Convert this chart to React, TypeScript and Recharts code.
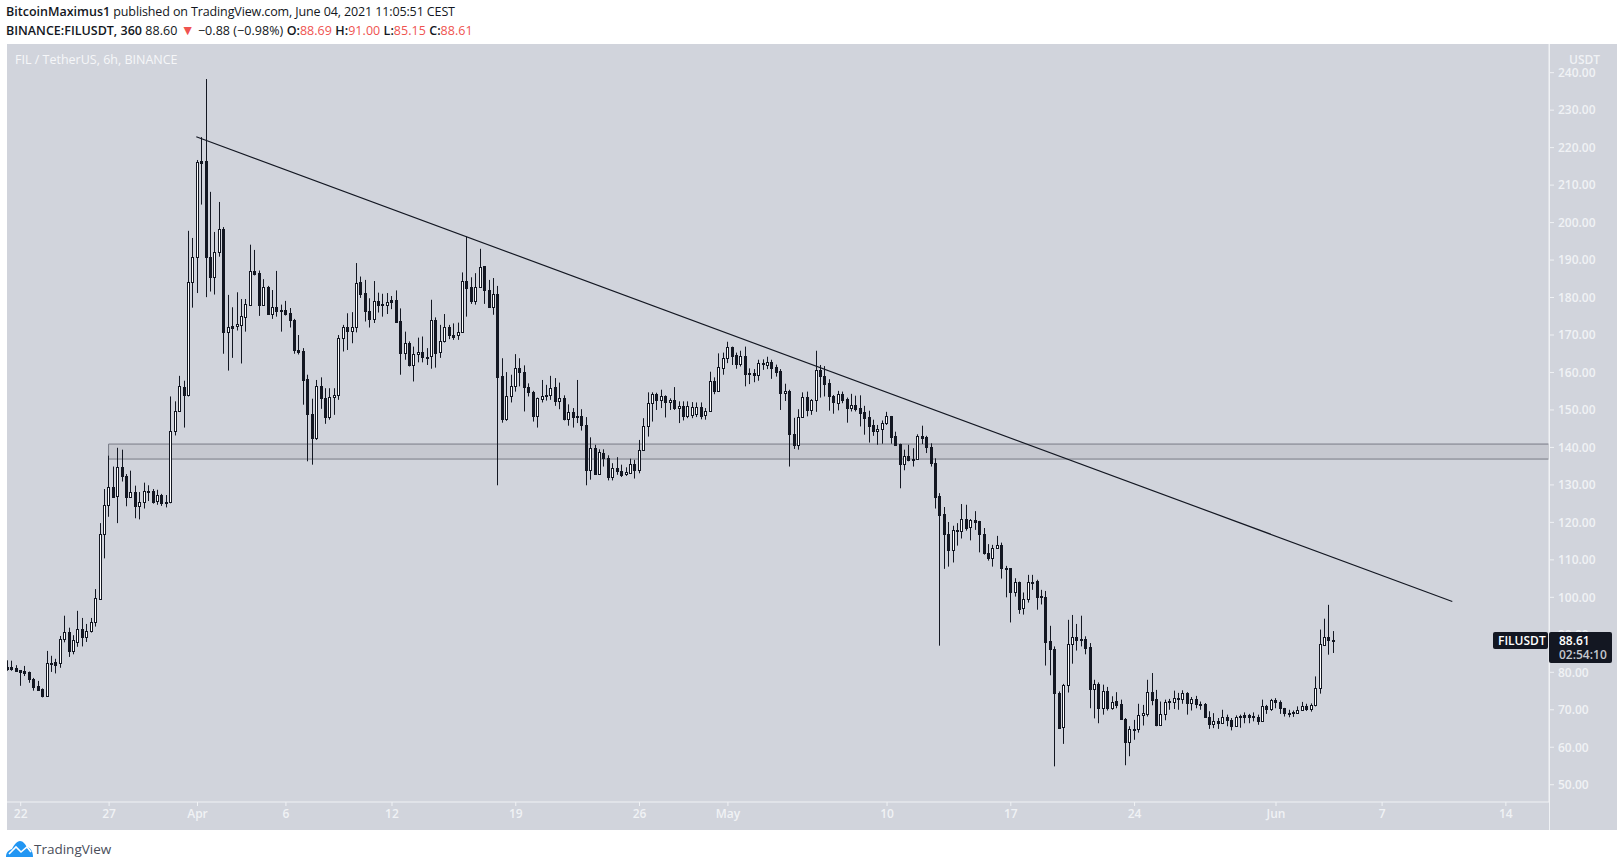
import { Bar, ComposedChart, ReferenceArea, ReferenceLine, XAxis, YAxis } from 'recharts';

const opens = [
  81.5, 81.5, 81.2, 80.6, 80.4, 80.0, 78.2, 76.4, 75.6, 73.8,
  82.5, 82.8, 82.4, 88.8, 90.7, 85.8, 88.2, 91.5, 89.3, 90.9,
  93.3, 99.6, 116.9, 124.6, 129.4, 127.0, 134.7, 132.4, 126.9, 128.1,
  124.5, 125.4, 128.3, 128.3, 125.8, 127.3, 125.3, 125.4, 144.3, 149.7,
  156.1, 154.1, 184.1, 190.8, 216.5, 216.5, 190.7, 185.6, 192.1, 198.3,
  170.9, 172.4, 172.3, 172.8, 174.9, 178.1, 187.0, 186.5, 178.1, 182.8,
  175.5, 177.4, 176.6, 176.6, 175.9, 174.0, 166.0, 165.8, 158.2, 148.8,
  142.4, 156.3, 153.2, 148.1, 153.4, 154.1, 169.1, 172.1, 171.2, 172.1,
  184.2, 181.2, 176.4, 174.3, 179.0, 178.2, 178.1, 179.4, 179.4, 173.7,
  165.1, 167.8, 162.1, 164.9, 165.4, 164.0, 164.3, 174.0, 165.4, 168.3,
  172.1, 170.0, 169.9, 170.9, 184.4, 182.8, 179.2, 182.8, 188.3, 182.0,
  177.4, 180.9, 159.1, 147.7, 153.7, 156.3, 161.1, 160.1, 156.1, 154.7,
  148.3, 152.8, 153.6, 153.9, 156.0, 152.5, 153.1, 147.7, 149.4, 148.1,
  148.5, 146.0, 134.1, 139.8, 133.0, 138.5, 137.3, 132.0, 134.5, 133.7,
  132.8, 133.3, 135.5, 133.9, 139.3, 145.7, 151.8, 154.2, 152.7, 153.6,
  152.2, 152.6, 150.6, 151.0, 148.5, 148.7, 148.9, 150.7, 148.7, 149.6,
  157.7, 155.1, 161.3, 163.8, 166.7, 164.7, 162.3, 164.4, 159.6, 159.8,
  159.2, 162.4, 162.0, 162.8, 161.4, 160.5, 154.4, 155.1, 143.6, 140.7,
  148.1, 153.4, 150.0, 152.6, 160.7, 159.1, 157.1, 153.8, 151.9, 154.3,
  153.0, 150.4, 151.4, 150.5, 149.4, 148.1, 145.9, 144.5, 144.8, 146.4,
  148.3, 143.1, 140.9, 135.7, 137.7, 136.7, 137.0, 143.0, 142.7, 140.1,
  135.8, 127.1, 122.2, 116.9, 112.5, 117.9, 117.7, 120.9, 118.7, 120.6,
  120.3, 116.9, 111.8, 110.5, 113.1, 113.9, 107.7, 107.8, 101.4, 104.1,
  97.1, 99.5, 104.2, 104.4, 100.3, 100.1, 88.3, 86.3, 74.5, 65.3,
  76.6, 87.5, 89.4, 88.5, 88.9, 86.7, 75.5, 76.9, 70.4, 75.1,
  70.6, 72.3, 71.6, 67.6, 61.4, 64.9, 64.9, 68.5, 69.0, 74.7,
  72.9, 66.0, 68.9, 72.4, 72.0, 73.2, 72.8, 74.5, 71.8, 72.9,
  71.5, 71.6, 68.2, 66.2, 67.0, 66.6, 68.2, 67.2, 65.8, 68.2,
  68.7, 68.6, 68.2, 68.2, 66.9, 70.9, 70.2, 72.6, 72.1, 70.4,
  69.1, 69.2, 69.1, 69.9, 70.9, 70.1, 71.2, 75.8, 87.4, 89.4,
  88.69,
];
const highs = [
  83.2, 83.1, 81.9, 80.6, 81.7, 80.2, 78.5, 77.7, 75.7, 85.7,
  84.4, 83.6, 89.7, 95.1, 91.9, 89.9, 96.4, 94.5, 92.9, 94.5,
  102.2, 119.8, 128.9, 137.8, 134.9, 139.9, 139.4, 132.9, 133.8, 129.8,
  128.1, 130.6, 129.9, 128.9, 128.7, 127.6, 127.3, 153.6, 152.3, 159.1,
  157.8, 197.8, 195.9, 216.7, 222.8, 238.3, 208.2, 197.5, 205.5, 198.8,
  180.7, 177.4, 181.4, 179.6, 179.6, 194.1, 192.7, 187.2, 184.9, 183.1,
  182.0, 187.1, 178.1, 179.1, 177.2, 174.3, 170.0, 166.5, 159.4, 153.0,
  158.0, 158.7, 155.8, 155.8, 155.8, 170.0, 172.7, 175.8, 176.1, 189.2,
  185.6, 184.7, 179.8, 184.4, 181.3, 181.0, 181.2, 180.4, 181.9, 177.1,
  170.9, 168.3, 166.9, 169.3, 169.6, 166.5, 179.4, 174.7, 172.7, 175.6,
  172.7, 173.1, 173.3, 186.7, 196.2, 185.4, 186.5, 193.0, 188.4, 184.7,
  185.2, 183.1, 163.8, 160.1, 159.4, 164.9, 163.8, 161.9, 157.1, 155.1,
  153.3, 158.0, 156.7, 159.1, 158.5, 157.3, 153.9, 151.5, 150.5, 158.0,
  150.2, 148.1, 142.7, 140.7, 139.5, 139.5, 137.9, 135.8, 137.4, 135.4,
  134.7, 137.0, 136.7, 142.0, 147.8, 154.7, 154.7, 154.6, 155.4, 153.9,
  153.1, 156.1, 152.3, 152.3, 152.3, 152.1, 152.0, 152.0, 150.5, 160.2,
  158.7, 165.1, 165.3, 168.2, 166.9, 165.3, 165.8, 166.9, 161.1, 160.9,
  163.4, 163.5, 164.2, 163.4, 162.1, 160.9, 157.0, 155.4, 147.9, 150.2,
  154.7, 154.9, 152.9, 165.8, 162.0, 161.7, 158.2, 154.0, 155.1, 154.9,
  153.3, 154.3, 153.8, 153.9, 151.1, 149.8, 147.4, 146.0, 147.2, 149.5,
  148.4, 144.2, 141.0, 139.4, 140.7, 139.8, 143.5, 145.8, 143.1, 141.1,
  137.1, 127.8, 124.1, 120.1, 119.1, 119.8, 124.9, 124.7, 120.9, 123.0,
  120.4, 118.5, 114.2, 114.0, 116.4, 114.6, 108.4, 107.8, 105.1, 104.2,
  101.3, 106.0, 106.0, 104.7, 102.0, 101.7, 92.4, 86.9, 74.9, 76.9,
  94.0, 95.3, 92.9, 95.1, 89.6, 87.8, 78.0, 77.3, 76.7, 76.1,
  73.6, 74.7, 72.7, 67.8, 65.6, 67.3, 71.6, 71.3, 78.0, 79.8,
  75.3, 72.2, 72.7, 72.9, 75.1, 74.5, 75.2, 74.7, 73.4, 73.7,
  72.2, 71.8, 69.6, 69.1, 67.8, 70.0, 68.7, 67.8, 68.5, 68.7,
  69.3, 68.9, 69.3, 68.7, 72.7, 71.3, 72.9, 73.1, 72.5, 70.5,
  70.0, 69.8, 70.9, 72.1, 71.6, 71.7, 78.9, 91.4, 94.3, 98.0,
  91.0,
];
const lows = [
  80.4, 80.4, 80.3, 76.4, 79.0, 77.2, 75.1, 75.3, 73.3, 73.8,
  80.1, 79.7, 81.2, 88.0, 84.1, 84.8, 86.8, 86.9, 88.1, 90.6,
  92.2, 99.4, 110.4, 121.5, 126.6, 119.8, 130.9, 124.3, 126.7, 121.1,
  120.8, 123.7, 125.7, 125.0, 124.7, 124.4, 124.0, 125.1, 143.2, 149.6,
  145.3, 153.6, 177.3, 181.2, 204.8, 180.1, 181.6, 180.8, 190.9, 165.0,
  160.5, 163.9, 171.2, 162.4, 170.9, 178.0, 185.9, 175.1, 178.0, 175.4,
  174.3, 174.9, 170.9, 175.2, 172.0, 165.0, 164.8, 151.4, 136.3, 135.4,
  142.0, 150.3, 146.3, 147.4, 148.7, 152.7, 165.6, 166.0, 167.8, 170.7,
  179.9, 173.6, 172.0, 173.2, 176.0, 174.9, 175.6, 176.9, 173.3, 159.4,
  163.4, 161.6, 157.6, 162.7, 162.7, 162.0, 161.0, 161.3, 163.9, 168.0,
  168.9, 168.7, 168.7, 170.7, 174.9, 178.3, 178.1, 182.6, 178.3, 177.2,
  175.4, 129.9, 146.6, 147.1, 152.0, 154.9, 156.3, 149.6, 153.6, 146.9,
  145.3, 152.0, 152.5, 152.7, 151.1, 150.2, 147.2, 145.8, 145.3, 146.5,
  144.5, 129.9, 131.4, 132.7, 132.7, 134.9, 131.2, 131.2, 132.7, 132.1,
  132.4, 133.0, 131.7, 133.1, 139.2, 142.9, 146.9, 150.0, 150.5, 148.0,
  150.0, 150.0, 146.5, 147.2, 147.8, 147.8, 148.1, 147.5, 147.4, 149.5,
  154.2, 154.8, 159.4, 162.5, 162.0, 161.0, 161.6, 156.3, 156.9, 157.4,
  157.8, 160.7, 160.9, 158.3, 158.9, 150.0, 152.4, 134.9, 139.6, 139.4,
  147.9, 148.3, 148.7, 149.5, 153.3, 153.6, 149.8, 149.0, 149.9, 151.8,
  146.6, 149.6, 149.6, 145.6, 143.4, 141.3, 143.1, 140.7, 141.0, 146.0,
  141.0, 140.7, 129.1, 133.9, 136.3, 134.9, 136.7, 140.9, 138.5, 134.9,
  123.7, 87.1, 107.6, 108.2, 109.3, 113.8, 115.7, 117.8, 115.2, 118.0,
  112.0, 111.4, 109.8, 108.2, 112.9, 105.0, 100.0, 93.3, 100.2, 95.6,
  95.4, 98.6, 102.0, 96.7, 98.1, 81.8, 79.2, 54.9, 64.9, 60.9,
  74.6, 82.3, 85.8, 86.9, 84.8, 70.4, 67.7, 66.4, 68.7, 69.8,
  70.0, 70.4, 67.3, 55.2, 57.6, 62.0, 63.9, 65.8, 68.2, 71.2,
  65.6, 65.7, 67.2, 70.0, 70.2, 70.0, 71.6, 68.7, 69.8, 70.4,
  70.0, 68.0, 64.9, 65.1, 64.9, 66.3, 65.6, 64.5, 65.4, 65.2,
  66.4, 66.4, 66.9, 66.0, 66.8, 68.9, 69.7, 70.4, 68.9, 68.2,
  68.0, 68.1, 68.9, 69.7, 69.7, 69.5, 70.9, 74.3, 87.2, 84.7,
  85.15,
];
const closes = [
  81.0, 80.9, 80.4, 80.2, 79.9, 78.1, 76.1, 75.4, 73.6, 82.5,
  82.4, 82.0, 88.9, 90.7, 85.8, 88.6, 91.5, 89.3, 91.0, 93.4,
  99.8, 116.9, 124.6, 129.4, 126.9, 134.7, 132.5, 126.9, 128.1, 124.5,
  125.4, 128.3, 128.2, 125.5, 127.3, 125.3, 125.4, 144.3, 149.7, 156.3,
  154.1, 184.1, 190.8, 216.1, 216.0, 190.7, 185.6, 192.1, 198.2, 170.9,
  172.1, 172.0, 173.0, 175.1, 178.3, 187.0, 186.3, 178.1, 182.9, 175.5,
  177.4, 176.5, 176.5, 175.7, 173.9, 165.9, 165.5, 158.1, 148.8, 142.4,
  156.3, 153.1, 148.0, 153.4, 153.9, 169.1, 172.1, 171.2, 172.1, 184.0,
  181.0, 176.3, 174.3, 179.0, 177.9, 177.9, 178.9, 178.8, 173.6, 165.1,
  167.8, 162.0, 164.8, 165.4, 164.0, 164.1, 174.0, 165.3, 168.3, 172.1,
  169.9, 169.6, 170.9, 184.4, 182.6, 179.2, 182.8, 188.1, 181.9, 177.4,
  180.9, 158.9, 147.7, 153.7, 156.3, 161.1, 160.0, 156.0, 154.7, 148.3,
  153.1, 153.6, 153.9, 155.8, 152.5, 153.1, 147.7, 149.4, 148.1, 148.5,
  146.0, 134.1, 139.8, 133.0, 138.7, 137.3, 132.0, 134.5, 133.6, 132.7,
  133.4, 135.5, 133.9, 139.3, 145.7, 151.8, 154.2, 152.7, 153.6, 152.2,
  152.6, 150.6, 151.0, 148.5, 151.0, 150.9, 150.7, 148.5, 149.7, 157.7,
  155.1, 161.4, 163.8, 166.7, 164.5, 162.3, 164.4, 159.6, 159.8, 159.2,
  162.4, 162.3, 162.7, 161.2, 160.2, 154.4, 155.0, 143.7, 140.7, 148.1,
  153.4, 150.0, 152.7, 160.6, 159.1, 157.0, 153.6, 152.0, 154.2, 152.7,
  150.4, 151.2, 150.2, 149.2, 147.9, 145.8, 144.5, 144.8, 146.5, 148.3,
  142.9, 140.7, 135.7, 137.7, 136.7, 137.0, 143.0, 142.4, 140.0, 135.8,
  126.9, 122.1, 116.8, 112.5, 117.9, 117.6, 120.9, 118.6, 120.6, 120.2,
  116.8, 111.8, 110.4, 113.1, 113.9, 107.7, 107.8, 101.3, 104.1, 96.9,
  99.5, 104.2, 104.1, 100.2, 100.0, 88.2, 86.1, 74.4, 65.2, 76.6,
  87.5, 89.4, 88.5, 88.8, 86.6, 75.5, 76.9, 70.4, 75.1, 70.4,
  72.2, 71.3, 67.5, 61.4, 64.9, 64.8, 68.6, 69.1, 74.7, 72.7,
  66.0, 68.9, 72.2, 72.0, 73.1, 72.9, 74.5, 71.8, 72.9, 71.5,
  71.6, 68.2, 66.2, 66.9, 66.6, 68.2, 67.2, 65.8, 68.2, 68.3,
  68.2, 68.2, 68.3, 66.9, 70.9, 70.2, 72.5, 72.1, 70.4, 69.1,
  69.2, 69.3, 69.9, 70.9, 70.2, 71.2, 75.8, 87.5, 89.4, 88.5,
  88.61,
];

// days since Mar 22, one bar every 6 hours
const days = opens.map((_, i) => -0.75 + i * 0.25);
const candles = opens.map((open, i) => ({
  day: days[i],
  open,
  high: highs[i],
  low: lows[i],
  close: closes[i],
}));

const priceTicks = [50, 60, 70, 80, 90, 100, 110, 120, 130, 140, 150, 160, 170, 180, 190, 200, 210, 220, 230, 240];
const timeTicks = [0, 5, 10, 15, 21, 28, 35, 40, 49, 56, 63, 71, 77, 84];
const timeLabels = ['22', '27', 'Apr', '6', '12', '19', '26', 'May', '10', '17', '24', 'Jun', '7', '14'];
const zoneLow = 136.9;
const zoneHigh = 140.9;
const zoneStart = 4.97;
const trendStart = { x: 9.93, y: 222.9 };
const trendEnd = { x: 80.97, y: 98.9 };
const dayDomain = [-0.775, 86.44];
const priceDomain = [45.39, 247.65];

const PANEL = '#d1d4dc';
const DARK = '#131722';
const LABEL = '#f0f2f5';
const RED = '#ef5350';
const FONT = '"Open Sans", sans-serif';

const Candle = (props: any) => {
  const { x, y, width, height, payload } = props;
  const { open, high, low, close } = payload;
  const toY = (v: number) => y + ((high - v) / (high - low)) * height;
  const c = Math.round(x + width / 2) - 0.5;
  const top = Math.round(toY(Math.max(open, close))) + 0.5;
  const bottom = Math.round(toY(Math.min(open, close))) + 0.5;
  const up = close >= open;
  return (
    <g>
      <line x1={c} x2={c} y1={y} y2={y + height} stroke={DARK} strokeWidth={1} />
      <rect
        x={c - 1}
        y={top}
        width={2}
        height={Math.max(bottom - top, 1)}
        fill={up ? '#ffffff' : DARK}
        stroke={DARK}
        strokeWidth={1}
      />
    </g>
  );
};

const box = (left: number, top: number, width: number, height: number): React.CSSProperties => ({
  position: 'absolute',
  left,
  top,
  width,
  height,
});

const Strong = ({ children }: { children: React.ReactNode }) => (
  <b style={{ fontWeight: 600, letterSpacing: 0 }}>{children}</b>
);

export default function App() {
  return (
    <div style={{ ...box(0, 0, 1624, 867), background: '#ffffff', fontFamily: FONT, overflow: 'hidden' }}>
      <div style={{ ...box(6, 3, 900, 18), fontSize: 12.5, letterSpacing: -0.12, color: DARK, lineHeight: '18px', whiteSpace: 'nowrap' }}>
        <Strong>BitcoinMaximus1</Strong> published on TradingView.com, June 04, 2021 11:05:51 CEST
      </div>
      <div style={{ ...box(6, 21, 900, 18), fontSize: 12.5, letterSpacing: 0.05, color: DARK, lineHeight: '18px', whiteSpace: 'nowrap' }}>
        <Strong>BINANCE:FILUSDT, 360</Strong> 88.60 <span style={{ color: RED, fontSize: 14 }}>▼</span> −0.88 (−0.98%){' '}
        <Strong>O:</Strong><span style={{ color: RED }}>88.69</span>{' '}
        <Strong>H:</Strong><span style={{ color: RED }}>91.00</span>{' '}
        <Strong>L:</Strong><span style={{ color: RED }}>85.15</span>{' '}
        <Strong>C:</Strong><span style={{ color: RED }}>88.61</span>
      </div>

      <div style={{ ...box(7, 44, 1610, 786), background: PANEL }} />
      <div style={{ ...box(1549, 44, 1, 786), background: LABEL }} />

      <div style={box(0, 0, 1624, 867)}>
        <ComposedChart
          width={1624}
          height={867}
          data={candles}
          margin={{ top: 44, right: 7, bottom: 37, left: 7 }}
        >
          <XAxis
            dataKey="day"
            type="number"
            domain={dayDomain}
            allowDataOverflow
            ticks={timeTicks}
            interval={0}
            height={28}
            tickFormatter={(v: number) => timeLabels[timeTicks.indexOf(v)]}
            tick={{ fill: LABEL, fontSize: 12, fontFamily: FONT, fontWeight: 600 }}
            tickSize={4}
            tickMargin={3}
            stroke={LABEL}
          />
          <YAxis
            orientation="right"
            type="number"
            domain={priceDomain}
            allowDataOverflow
            ticks={priceTicks}
            interval={0}
            width={68}
            tickFormatter={(v: number) => v.toFixed(2)}
            tick={{ fill: LABEL, fontSize: 12, fontFamily: FONT, fontWeight: 600 }}
            tickSize={5}
            tickMargin={4}
            stroke={LABEL}
          />
          <Bar
            dataKey={(d: any) => [d.low, d.high]}
            barSize={3}
            shape={<Candle />}
            isAnimationActive={false}
          />
          <ReferenceArea
            x1={zoneStart}
            x2={dayDomain[1]}
            y1={zoneLow}
            y2={zoneHigh}
            fill="#787b86"
            fillOpacity={0.13}
            stroke="#787b86"
            strokeWidth={1}
            ifOverflow="hidden"
          />
          <ReferenceLine
            segment={[trendStart, trendEnd]}
            stroke={DARK}
            strokeWidth={1.2}
          />
        </ComposedChart>
      </div>

      <div style={{ ...box(15, 50, 300, 20), color: '#f6f7f9', fontSize: 12.5, lineHeight: '20px', fontWeight: 500 }}>
        FIL / TetherUS, 6h, BINANCE
      </div>

      <div style={{ ...box(1550, 44, 67, 23), background: PANEL }} />
      <div style={{ ...box(1569, 51, 40, 18), color: LABEL, fontSize: 12, fontWeight: 600, lineHeight: '18px' }}>USDT</div>

      <div style={{ ...box(1493, 632, 55, 17), background: DARK, borderRadius: 2, color: '#ffffff', fontSize: 12, fontWeight: 600, lineHeight: '17px', textIndent: 5 }}>
        FILUSDT
      </div>
      <div style={{ ...box(1549, 632, 63, 31), background: DARK, borderRadius: 2 }} />
      <div style={{ ...box(1559, 632, 50, 17), color: '#ffffff', fontSize: 12, fontWeight: 600, lineHeight: '18px' }}>88.61</div>
      <div style={{ ...box(1559, 646, 52, 17), color: '#c4c7ce', fontSize: 12, fontWeight: 600, lineHeight: '18px' }}>02:54:10</div>

      <svg style={box(6, 840, 28, 17)} viewBox="0 0 28 17">
        <path
          d="M0 17 C0 12 3 10 6 9 C8 5 11 1 14 1 C17 1 19 4 21 7 C25 8 27 12 27 17 Z"
          fill="#2196f3"
        />
        <path d="M3 14 L10 7 L15 12 L21 7 L25 12" fill="none" stroke="#ffffff" strokeWidth={1.6} />
      </svg>
      <div style={{ ...box(34, 840, 100, 18), color: '#4a4e5a', fontSize: 13.5, lineHeight: '18px' }}>TradingView</div>
    </div>
  );
}
